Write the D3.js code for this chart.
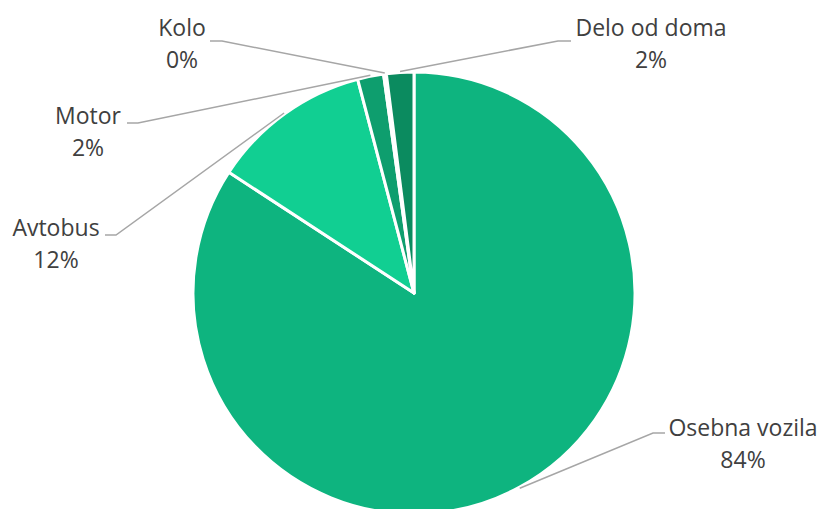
<!DOCTYPE html>
<html>
<head>
<meta charset="utf-8">
<script src="https://cdn.jsdelivr.net/npm/d3@7"></script>
<style>
  html, body { margin: 0; padding: 0; background: #ffffff; }
  svg { display: block; }
</style>
</head>
<body>
<svg id="chart" width="819" height="509"></svg>
<script>
// ---- data ----
const categories = ["Osebna vozila", "Avtobus", "Motor", "Kolo", "Delo od doma"];
const values = [84.2, 11.7, 1.9, 0.2, 2.0];
const percentLabels = ["84%", "12%", "2%", "0%", "2%"];
const colors = ["#0eb47f", "#11cf92", "#0e9e6e", "#0c9466", "#0b8b5f"];

// ---- layout (label placement, not data) ----
const labelLayout = [
  { x: 743, y: 436, elbowX: 653, lineY: 433, endX: 665 },
  { x: 56,  y: 236, elbowX: 116, lineY: 235, endX: 105 },
  { x: 88,  y: 124, elbowX: 138, lineY: 123, endX: 127 },
  { x: 182, y: 36,  elbowX: 222, lineY: 41,  endX: 210 },
  { x: 651, y: 36,  elbowX: 558, lineY: 41,  endX: 571 }
];

const width = 819, height = 509;
const cx = 414, cy = 293, radius = 221;

const svg = d3.select("#chart");
const g = svg.append("g").attr("transform", `translate(${cx},${cy})`);

const pie = d3.pie().sort(null).value(d => d.value);
const data = categories.map((c, i) => ({ name: c, value: values[i], pct: percentLabels[i], color: colors[i], lay: labelLayout[i] }));
const arcs = pie(data);

const arc = d3.arc().innerRadius(0).outerRadius(radius);

g.selectAll("path.slice")
  .data(arcs)
  .join("path")
  .attr("class", "slice")
  .attr("d", arc)
  .attr("fill", d => d.data.color)
  .attr("stroke", "#ffffff")
  .attr("stroke-width", 3)
  .attr("stroke-linejoin", "round");

// leader lines
svg.selectAll("polyline.leader")
  .data(arcs)
  .join("polyline")
  .attr("class", "leader")
  .attr("points", d => {
    const mid = (d.startAngle + d.endAngle) / 2;
    const px = cx + Math.sin(mid) * (radius + 1);
    const py = cy - Math.cos(mid) * (radius + 1);
    const L = d.data.lay;
    return [[px, py], [L.elbowX, L.lineY], [L.endX, L.lineY]].map(p => p.join(",")).join(" ");
  })
  .attr("fill", "none")
  .attr("stroke", "#a6a6a6")
  .attr("stroke-width", 1.5);

// labels
const labels = svg.selectAll("text.lbl")
  .data(arcs)
  .join("text")
  .attr("class", "lbl")
  .attr("text-anchor", "middle")
  .attr("font-family", "'Open Sans', 'Noto Sans', sans-serif")
  .attr("font-size", 23)
  .attr("fill", "#404040");

labels.append("tspan")
  .attr("x", d => d.data.lay.x)
  .attr("y", d => d.data.lay.y)
  .text(d => d.data.name);
labels.append("tspan")
  .attr("x", d => d.data.lay.x)
  .attr("y", d => d.data.lay.y + 32)
  .text(d => d.data.pct);
</script>
</body>
</html>
